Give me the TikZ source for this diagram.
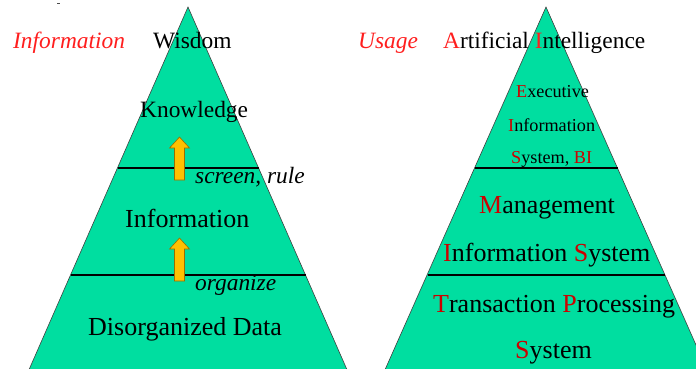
\documentclass[tikz,border=0pt]{standalone}
\usepackage{fontspec}
\setmainfont{Liberation Serif}
\definecolor{pyr}{RGB}{0,222,160}
\definecolor{hred}{RGB}{255,30,30}
\definecolor{lred}{RGB}{205,0,0}
\definecolor{arr}{RGB}{255,192,0}
\definecolor{arrline}{RGB}{150,110,0}
\tikzset{
  tri/.style={fill=pyr,draw=black!75,line width=0.6pt},
  divider/.style={draw=black,line width=1.4pt},
  lbl/.style={anchor=base west,inner sep=0pt,text=black},
  big/.style={lbl,font=\fontsize{26}{26}\selectfont},
  mid/.style={lbl,font=\fontsize{23.4}{23.4}\selectfont},
  small/.style={lbl,font=\fontsize{18.2}{18.2}\selectfont},
  uparrow/.style={fill=arr,draw=arrline,line width=0.6pt},
}
\newcommand{\R}[1]{\textcolor{lred}{#1}}
\begin{document}
\begin{tikzpicture}[x=1pt,y=-1pt]
\useasboundingbox (0,0) rectangle (696,368);
\clip (0,0) rectangle (696,368);
% tiny mark
\draw[black!70,line width=0.6pt] (57,3.5) -- (60,3.5);
% left pyramid
\coordinate (LA) at (188,7);
\path[tri] (LA) -- (28,372) -- (348,372) -- cycle;
\draw[divider] (117.5,168) -- (258.5,168);
\draw[divider] (70.5,275) -- (305.5,275);
% arrows
\path[uparrow] (179.5,137) -- (189.5,148) -- (184.5,148) -- (184.5,180) -- (174.5,180) -- (174.5,148) -- (169.5,148) -- cycle;
\path[uparrow] (179.5,238) -- (189.5,249) -- (184.5,249) -- (184.5,281) -- (174.5,281) -- (174.5,249) -- (169.5,249) -- cycle;
% right pyramid
\coordinate (RA) at (546,7);
\path[tri] (RA) -- (384,372) -- (708,372) -- cycle;
\draw[divider] (475,168) -- (618,168);
\draw[divider] (428,275) -- (665,275);
% left texts
\node[mid,font=\itshape\fontsize{23.4}{23.4}\selectfont,text=hred] (tInfo) at (13,48) {Information};
\node[mid] (tWis) at (153,48) {Wisdom};
\node[mid] (tKno) at (140,117) {Knowledge};
\node[mid,font=\itshape\fontsize{23.4}{23.4}\selectfont] (tScr) at (195,183) {screen, rule};
\node[big] (tInf2) at (125,227) {Information};
\node[mid,font=\itshape\fontsize{23.4}{23.4}\selectfont] (tOrg) at (195,290) {organize};
\node[big] (tDis) at (88,335) {Disorganized Data};
% right texts
\node[mid,font=\itshape\fontsize{23.4}{23.4}\selectfont,text=hred] (tUsa) at (358,48) {Usage};
\node[mid] (tAI) at (443,48) {\textcolor{hred}{A}rtificial \textcolor{hred}{I}ntelligence};
\node[small] (tExe) at (516,97) {\R{E}xecutive};
\node[small] (tInf3) at (508,131) {\R{I}nformation};
\node[small] (tSys) at (511,163) {\R{S}ystem, \R{BI}};
\node[big] (tMan) at (479,213) {\R{M}anagement};
\node[big] (tMIS) at (443,261) {\R{I}nformation \R{S}ystem};
\node[big] (tTPS) at (433,312) {\R{T}ransaction \R{P}rocessing};
\node[big] (tSys2) at (515,358) {\R{S}ystem};
\end{tikzpicture}
\end{document}
